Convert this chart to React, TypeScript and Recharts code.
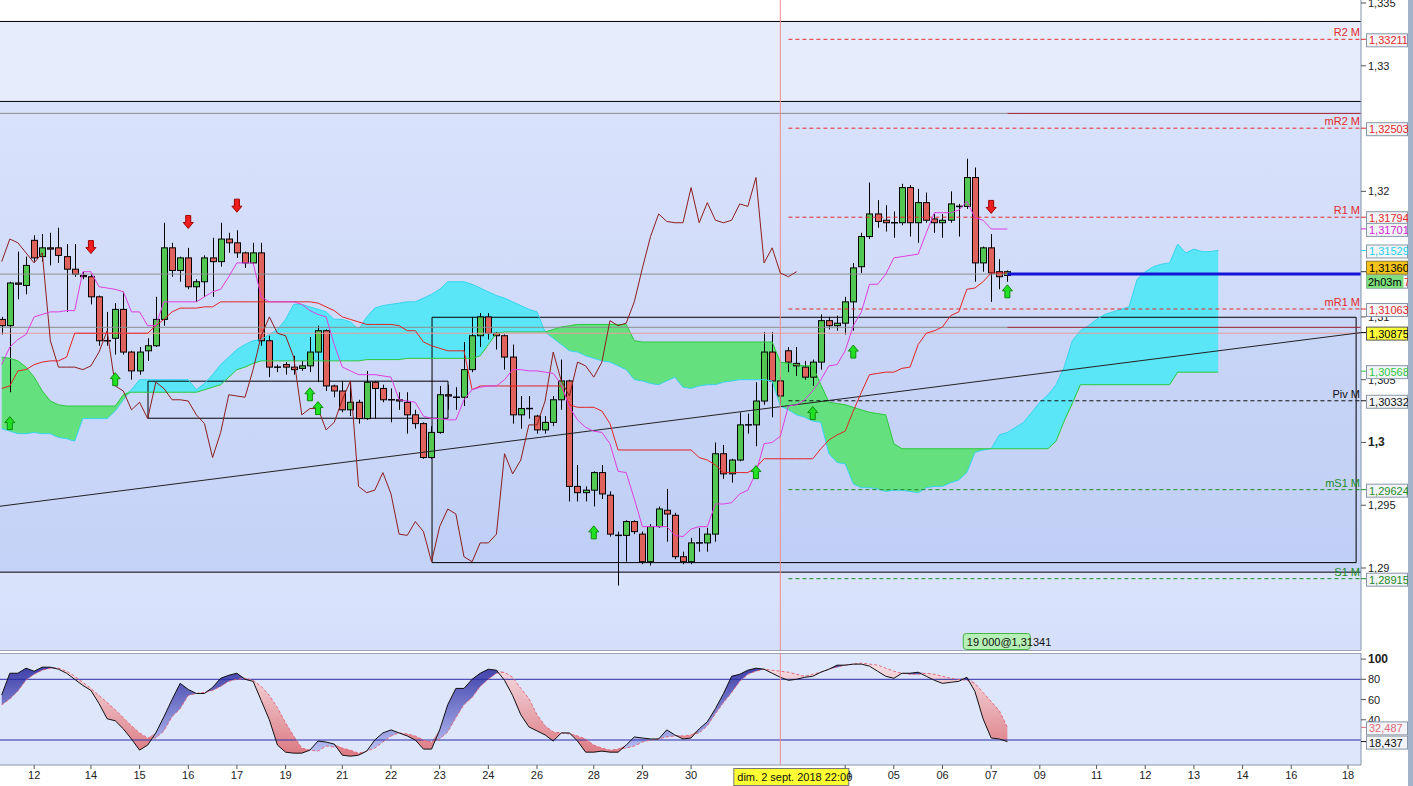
import React from "react";
import {
  Area,
  Bar,
  ComposedChart,
  Line,
  ReferenceArea,
  ReferenceLine,
  Scatter,
  XAxis,
  YAxis,
} from "recharts";

// GBP/USD-like H4 candles, oldest first
const opens = [
  1.3098, 1.3093, 1.3127, 1.3125, 1.3161, 1.3148, 1.3155, 1.3155, 1.3148, 1.3138,
  1.3133, 1.3132, 1.3116, 1.3081, 1.3083, 1.3106, 1.3072, 1.3057, 1.3073, 1.3077,
  1.3098, 1.3155, 1.3137, 1.3147, 1.3124, 1.3128, 1.3147, 1.3144, 1.3162, 1.3159,
  1.3151, 1.3143, 1.3151, 1.3081, 1.306, 1.3062, 1.306, 1.3059, 1.3061, 1.3072,
  1.3089, 1.3045, 1.3041, 1.3026, 1.3032, 1.3019, 1.3048, 1.3043, 1.3034, 1.3034,
  1.3032, 1.3022, 1.3015, 1.2988, 1.3008, 1.3038, 1.3036, 1.3036, 1.3058, 1.3085,
  1.31, 1.3087, 1.3085, 1.3068, 1.3022, 1.3027, 1.3021, 1.301, 1.3016, 1.3034,
  1.3049, 1.2965, 1.296, 1.2962, 1.2976, 1.2958, 1.2926, 1.2926, 1.2937, 1.2927,
  1.2905, 1.2933, 1.2946, 1.2942, 1.2909, 1.2905, 1.292, 1.292, 1.2927, 1.2991,
  1.2975, 1.2986, 1.3014, 1.3014, 1.3033, 1.3072, 1.3049, 1.3073, 1.3063, 1.306,
  1.3052, 1.3064, 1.3097, 1.3093, 1.3095, 1.3112, 1.314, 1.3164, 1.3182, 1.3177,
  1.3175, 1.3175, 1.3203, 1.3175, 1.3191, 1.3178, 1.3175, 1.3177, 1.3188, 1.3188,
  1.3211, 1.3143, 1.3155, 1.3136, 1.3133,
];
const highs = [
  1.31, 1.3128, 1.3152, 1.3148, 1.3165, 1.3166, 1.3167, 1.3171, 1.3158, 1.3158,
  1.3136, 1.3134, 1.3117, 1.3104, 1.3111, 1.312, 1.3073, 1.3076, 1.3083, 1.3116,
  1.3175, 1.3159, 1.3148, 1.3155, 1.313, 1.3149, 1.3163, 1.3175, 1.3167, 1.3169,
  1.3152, 1.3159, 1.3159, 1.3085, 1.3062, 1.3064, 1.3069, 1.3065, 1.3084, 1.3093,
  1.309, 1.3046, 1.3049, 1.3049, 1.3034, 1.3057, 1.3049, 1.3046, 1.3043, 1.304,
  1.304, 1.3026, 1.3016, 1.3013, 1.3045, 1.3046, 1.3044, 1.308, 1.31, 1.3103,
  1.3103, 1.3088, 1.3086, 1.3078, 1.3037, 1.3037, 1.3022, 1.3021, 1.3037, 1.3066,
  1.305, 1.2982, 1.2965, 1.2977, 1.2982, 1.2961, 1.2929, 1.2938, 1.2938, 1.2929,
  1.2935, 1.2949, 1.2963, 1.2944, 1.2913, 1.2924, 1.2932, 1.2932, 1.3, 1.2998,
  1.2987, 1.3024, 1.3023, 1.3048, 1.3088, 1.3088, 1.3052, 1.3076, 1.3076, 1.3065,
  1.3066, 1.3102, 1.31, 1.3101, 1.3116, 1.3143, 1.3167, 1.3207, 1.3193, 1.3189,
  1.3184, 1.3206, 1.3205, 1.3202, 1.3199, 1.3182, 1.3182, 1.32, 1.319, 1.3226,
  1.3219, 1.3156, 1.3166, 1.3146, 1.3137,
];
const lows = [
  1.3086, 1.304, 1.3114, 1.3118, 1.3144, 1.3144, 1.3141, 1.3143, 1.3104, 1.3132,
  1.313, 1.311, 1.3077, 1.3077, 1.307, 1.307, 1.305, 1.3054, 1.3065, 1.3076,
  1.3093, 1.3132, 1.3128, 1.3122, 1.3112, 1.3116, 1.3116, 1.314, 1.3151, 1.3147,
  1.3139, 1.3142, 1.3077, 1.3052, 1.3056, 1.3054, 1.3054, 1.3057, 1.3056, 1.3048,
  1.3041, 1.3036, 1.3024, 1.3021, 1.3015, 1.3018, 1.3019, 1.3032, 1.3016, 1.3026,
  1.3007, 1.3011, 1.2987, 1.2987, 1.3007, 1.3026, 1.3026, 1.3029, 1.3056, 1.3076,
  1.3082, 1.3074, 1.3058, 1.3015, 1.3011, 1.3019, 1.3007, 1.3007, 1.3013, 1.3026,
  1.2953, 1.2953, 1.2953, 1.2949, 1.2955, 1.2925, 1.2886, 1.2905, 1.2927, 1.2903,
  1.2902, 1.2932, 1.2921, 1.2907, 1.2903, 1.2903, 1.2913, 1.2913, 1.2921, 1.2971,
  1.2968, 1.2985, 1.3007, 1.2997, 1.303, 1.302, 1.303, 1.3056, 1.3053, 1.305,
  1.3045, 1.3058, 1.309, 1.3089, 1.3086, 1.3089, 1.3135, 1.3162, 1.3171, 1.3168,
  1.3163, 1.3173, 1.3164, 1.3159, 1.3175, 1.3167, 1.3163, 1.3175, 1.3164, 1.3186,
  1.3128, 1.3136, 1.3112, 1.3122, 1.3128,
];
const closes = [
  1.3093, 1.3127, 1.3126, 1.3141, 1.3147, 1.3155, 1.3154, 1.3149, 1.3138, 1.3134,
  1.3132, 1.3116, 1.3081, 1.3081, 1.3106, 1.3072, 1.3057, 1.3072, 1.3077, 1.3098,
  1.3155, 1.3137, 1.3147, 1.3124, 1.3128, 1.3147, 1.3144, 1.3162, 1.3159, 1.3151,
  1.3143, 1.3151, 1.3081, 1.306, 1.306, 1.306, 1.3058, 1.3061, 1.3072, 1.3089,
  1.3045, 1.3041, 1.3026, 1.3032, 1.3019, 1.3048, 1.3043, 1.3034, 1.3034, 1.3033,
  1.3022, 1.3015, 1.2988, 1.3008, 1.3038, 1.3037, 1.3036, 1.3058, 1.3085, 1.31,
  1.3087, 1.3085, 1.3068, 1.3022, 1.3027, 1.3027, 1.301, 1.3016, 1.3034, 1.3049,
  1.2965, 1.296, 1.2962, 1.2976, 1.2959, 1.2927, 1.2926, 1.2937, 1.2929, 1.2905,
  1.2933, 1.2947, 1.2943, 1.2909, 1.2905, 1.292, 1.292, 1.2927, 1.2991, 1.2975,
  1.2986, 1.3014, 1.3014, 1.3033, 1.3072, 1.3049, 1.3037, 1.3064, 1.3061, 1.3052,
  1.3064, 1.3097, 1.3093, 1.3095, 1.3112, 1.3139, 1.3164, 1.3182, 1.3176, 1.3175,
  1.3175, 1.3203, 1.3175, 1.3191, 1.3177, 1.3175, 1.3177, 1.319, 1.3188, 1.3211,
  1.3143, 1.3155, 1.3135, 1.3132, 1.3136,
];

// Ichimoku lines
const tenkan = [
  1.3062, 1.3076, 1.3082, 1.3086, 1.31, 1.3102, 1.3104, 1.3104, 1.3105, 1.3105,
  1.3136, 1.3136, 1.3124, 1.3123, 1.3122, 1.312, 1.3104, 1.3104, 1.3093, 1.3093,
  1.3112, 1.3112, 1.3112, 1.3112, 1.3112, 1.3116, 1.312, 1.3122, 1.3132, 1.3143,
  1.3143, 1.3143, 1.3116, 1.3112, 1.3112, 1.3112, 1.3112, 1.311, 1.3105, 1.3102,
  1.31, 1.3078, 1.306, 1.3057, 1.3054, 1.3054, 1.3054, 1.3053, 1.3052, 1.3034,
  1.3033, 1.3032, 1.3021, 1.3019, 1.3019, 1.3018, 1.3018, 1.3034, 1.3042, 1.3044,
  1.3045, 1.3045, 1.305, 1.3058, 1.3058, 1.3057, 1.3057, 1.3056, 1.3055, 1.3046,
  1.3028, 1.3018, 1.3012, 1.3009, 1.3008, 1.2999, 1.2977, 1.2976, 1.2955, 1.2933,
  1.2933, 1.2933, 1.2933, 1.2926, 1.2925, 1.2931, 1.2933, 1.2933, 1.2951, 1.2951,
  1.2952, 1.2959, 1.2962, 1.2976, 1.2999, 1.3, 1.3005, 1.3029, 1.303, 1.3034,
  1.3041, 1.305, 1.3061, 1.3062, 1.3073, 1.3093, 1.3104, 1.3126, 1.3126, 1.3134,
  1.3147, 1.3148, 1.3149, 1.315, 1.3167, 1.3183, 1.3183, 1.3183, 1.3185, 1.3192,
  1.3179, 1.3177, 1.317, 1.317, 1.317,
];
const kijun = [
  1.3043, 1.3045, 1.3057, 1.3058, 1.3062, 1.3064, 1.3065, 1.3065, 1.3068, 1.3087,
  1.3087, 1.3087, 1.3087, 1.3087, 1.3087, 1.3087, 1.3087, 1.3087, 1.3087, 1.3093,
  1.3098, 1.3104, 1.3107, 1.3107, 1.3107, 1.3108, 1.3108, 1.3112, 1.3112, 1.3112,
  1.3112, 1.3112, 1.3112, 1.3112, 1.3112, 1.3112, 1.3112, 1.3112, 1.3112, 1.3111,
  1.3108, 1.3105, 1.31, 1.3098, 1.3096, 1.3094, 1.3094, 1.3094, 1.3094, 1.3093,
  1.3089, 1.3089, 1.308, 1.3077, 1.3075, 1.3073, 1.3073, 1.3073, 1.3042, 1.3045,
  1.3045, 1.3045, 1.3045, 1.3045, 1.3045, 1.3045, 1.3045, 1.3045, 1.3045, 1.3045,
  1.303, 1.3028, 1.3028, 1.3028, 1.3025, 1.3015, 1.2994, 1.2994, 1.2994, 1.2994,
  1.2994, 1.2994, 1.2994, 1.2994, 1.2994, 1.2994, 1.2988, 1.2986, 1.2982, 1.2976,
  1.2976, 1.2976, 1.2976, 1.298, 1.2987, 1.2987, 1.2987, 1.2987, 1.2987, 1.2987,
  1.2987, 1.2995, 1.3002, 1.3006, 1.3009, 1.3025, 1.304, 1.3054, 1.3055, 1.3056,
  1.3056, 1.3059, 1.306, 1.3078, 1.3087, 1.3089, 1.3092, 1.3101, 1.3104, 1.3122,
  1.3123, 1.3128, 1.3135, 1.3135, 1.3135,
];
const senkouA = [
  1.3011, 1.3009, 1.3007, 1.3007, 1.3008, 1.3007, 1.3007, 1.3004, 1.3003, 1.3001,
  1.3019, 1.3019, 1.3019, 1.3019, 1.3025, 1.3034, 1.3042, 1.305, 1.305, 1.305,
  1.305, 1.305, 1.305, 1.305, 1.3042, 1.3047, 1.3054, 1.3062, 1.3068, 1.3074,
  1.3078, 1.3081, 1.3082, 1.3086, 1.309, 1.3098, 1.311, 1.311, 1.3108, 1.3106,
  1.3104, 1.3098, 1.3098, 1.3096, 1.309, 1.31, 1.3107, 1.3109, 1.311, 1.3111,
  1.3112, 1.3112, 1.3115, 1.3118, 1.3122, 1.3128, 1.3128, 1.3128, 1.3126, 1.3123,
  1.312, 1.3117, 1.3115, 1.3112, 1.3109, 1.3106, 1.3104, 1.3088, 1.3083, 1.3078,
  1.3073, 1.3072, 1.3069, 1.3067, 1.3065, 1.3064, 1.3061, 1.3058, 1.305, 1.3049,
  1.3047, 1.3046, 1.3049, 1.3052, 1.3044, 1.3043, 1.3045, 1.3046, 1.3046, 1.3048,
  1.3049, 1.305, 1.305, 1.305, 1.305, 1.3049, 1.3029, 1.3026, 1.3022, 1.302,
  1.3017, 1.3016, 1.2991, 1.2984, 1.2983, 1.2967, 1.2964, 1.2964, 1.2963, 1.2961,
  1.2962, 1.2962, 1.2961, 1.296, 1.2964, 1.2965, 1.2965, 1.2968, 1.297, 1.2976,
  1.2992, 1.2994, 1.2995, 1.3006, 1.3008, 1.3012, 1.3016, 1.3024, 1.3032, 1.3038,
  1.3046, 1.306, 1.3081, 1.3089, 1.3093, 1.3098, 1.3102, 1.3104, 1.3106, 1.3108,
  1.313, 1.3136, 1.314, 1.3142, 1.3143, 1.3158, 1.3151, 1.3154, 1.3152, 1.3152,
  1.3153,
];
const senkouB = [
  1.3068, 1.3067, 1.3065, 1.306, 1.3052, 1.3041, 1.3033, 1.303, 1.3029, 1.3029,
  1.3029, 1.3029, 1.3029, 1.3029, 1.3029, 1.3038, 1.304, 1.304, 1.304, 1.304,
  1.304, 1.304, 1.304, 1.304, 1.304, 1.3042, 1.3044, 1.3046, 1.3052, 1.3058,
  1.306, 1.3063, 1.3065, 1.3065, 1.3065, 1.3065, 1.3065, 1.3065, 1.3065, 1.3065,
  1.3065, 1.3065, 1.3065, 1.3065, 1.3065, 1.3066, 1.3066, 1.3066, 1.3066, 1.3066,
  1.3067, 1.3067, 1.3067, 1.3067, 1.3067, 1.3067, 1.3067, 1.3067, 1.3067, 1.3069,
  1.3078, 1.3087, 1.3088, 1.3088, 1.3088, 1.3088, 1.3088, 1.3088, 1.309, 1.3092,
  1.3093, 1.3094, 1.3094, 1.3094, 1.3094, 1.3094, 1.3094, 1.3094, 1.3081, 1.308,
  1.308, 1.308, 1.308, 1.308, 1.308, 1.308, 1.308, 1.308, 1.308, 1.308,
  1.308, 1.308, 1.308, 1.308, 1.308, 1.308, 1.3064, 1.3063, 1.3062, 1.3061,
  1.3061, 1.3046, 1.3032, 1.3031, 1.303, 1.3028, 1.3026, 1.3024, 1.3023, 1.3022,
  1.2999, 1.2995, 1.2995, 1.2995, 1.2995, 1.2995, 1.2995, 1.2995, 1.2995, 1.2995,
  1.2995, 1.2995, 1.2995, 1.2995, 1.2995, 1.2995, 1.2995, 1.2995, 1.2995, 1.2995,
  1.3001, 1.3017, 1.3031, 1.3046, 1.3046, 1.3046, 1.3046, 1.3046, 1.3046, 1.3046,
  1.3046, 1.3046, 1.3046, 1.3046, 1.3046, 1.3056, 1.3056, 1.3056, 1.3056, 1.3056,
  1.3056,
];

// stochastic %K (solid) and %D (dashed)
const stochK = [
  64.5, 86, 86, 91, 88, 92, 92, 90, 86, 80, 74, 69, 56, 41, 39, 31, 21, 10, 15, 27,
  43, 60, 76, 70, 66, 66, 72, 81, 84, 86, 80, 78, 59, 40, 15, 8, 7, 7, 10, 19,
  18, 16, 5, 4, 5, 9, 20, 27, 30, 27, 24, 20, 11, 11, 30, 55, 71, 71, 80, 86,
  90, 89, 79, 64, 45, 33, 29, 25, 19, 27, 27, 19, 8, 8, 9, 8, 8, 15, 23, 22,
  21, 21, 30, 25, 21, 22, 31, 38, 51, 66, 83, 85, 89, 91, 90, 86, 82, 79, 80, 82,
  83, 87, 90, 94, 94, 95, 95, 93, 88, 83, 81, 86, 86, 87, 83, 79, 76, 77, 78, 82,
  68, 41, 22, 21, 18.437,
];
const stochD = [
  54.7, 60.5, 68.5, 79.3, 85, 89, 91, 91, 88, 83, 77, 71, 64, 57, 50, 42, 34, 27, 22, 22,
  29, 43, 51, 64, 66, 67, 69, 73, 78, 80, 81, 79, 73, 64, 52, 37, 24, 12, 10, 9,
  14, 13, 12, 10, 7, 9, 12, 18, 24, 27, 26, 24, 20, 18, 21, 28, 42, 55, 62, 73,
  80, 86, 87, 82, 71, 61, 45, 34, 28, 27, 26, 24, 21, 15, 12, 10, 11, 12, 14, 18,
  20, 21, 23, 24, 24, 25, 27, 34, 46, 57, 67, 78, 85, 88, 90, 89, 88, 87, 85, 83,
  85, 87, 90, 92, 94, 95, 96, 95, 94, 91, 88, 86, 85, 85, 86, 85, 83, 81, 80, 79,
  76, 67, 58, 49, 32.487,
];

// date axis: candle index of each day label
const dayTicks = [4, 11, 17, 23, 29, 35, 42, 48, 54, 60, 66, 73, 79, 85, 104, 110, 116, 122, 128, 135, 141, 147, 153, 159, 166];
const dayLabels = ["12", "14", "15", "16", "17", "19", "21", "22", "23", "24", "26", "28", "29", "30", "04", "05", "06", "07", "09", "11", "12", "13", "14", "16", "18"];

// signal arrows
const upArrowIdx = [1, 14, 38, 39, 73, 93, 100, 105, 124];
const upArrowPrice = [1.3015, 1.305, 1.3038, 1.3027, 1.2928, 1.2976, 1.3023, 1.3072, 1.312];
const downArrowIdx = [11, 23, 29, 122];
const downArrowPrice = [1.3156, 1.3176, 1.3189, 1.3188];

// monthly pivots
const pivotNames = ["R2 M", "mR2 M", "R1 M", "mR1 M", "Piv M", "mS1 M", "S1 M"];
const pivotValues = [1.33211, 1.32503, 1.31794, 1.31063, 1.30332, 1.29624, 1.28915];

const priceTicks = [1.29, 1.295, 1.3, 1.305, 1.31, 1.32, 1.33, 1.335];
const stochTicks = [40, 60, 80, 100];

const FONT = "'Liberation Sans', Arial, sans-serif";
const RED = "#e42a2a";
const GREEN = "#1c8c26";
const W = 1413;
const MAIN_H = 650;
const X_MIN = -0.21;
const X_MAX = 167.6;
const Y_MIN = 1.28347;
const Y_MAX = 1.33524;
const S_MIN = -4.7;
const S_MAX = 106;
const LAST = 124;
const CROSS = 96;
const PIVOT_START = 97;
const ORDER_AT = 118.5;
const CHIKOU_SHIFT = 26;

const rows = senkouA.map((a, i) => {
  const b = senkouB[i];
  const has = i < opens.length;
  return {
    i,
    candle: has ? [lows[i], highs[i]] : null,
    open: has ? opens[i] : null,
    high: has ? highs[i] : null,
    low: has ? lows[i] : null,
    close: has ? closes[i] : null,
    tenkan: i < tenkan.length ? tenkan[i] : null,
    kijun: i < kijun.length ? kijun[i] : null,
    chikou: i + CHIKOU_SHIFT < closes.length ? closes[i + CHIKOU_SHIFT] : null,
    spanA: a,
    spanB: b,
    cloudUp: [b, Math.max(a, b)],
    cloudDown: [a, Math.max(a, b)],
  };
});

const stochRows = stochK.map((k, i) => {
  const d = stochD[i];
  return { i, k, d, up: [d, Math.max(k, d)], down: [k, Math.max(k, d)] };
});

const ups = upArrowIdx.map((i, n) => ({ i, price: upArrowPrice[n] }));
const downs = downArrowIdx.map((i, n) => ({ i, price: downArrowPrice[n] }));

const fmtPrice = (v: number) =>
  v.toFixed(3).replace(/0+$/, "").replace(/\.$/, "").replace(".", ",");

function Candle(props: any) {
  const { x, y, width, height, payload } = props;
  if (!payload || payload.open == null) return null;
  const { open, high, low, close } = payload;
  const top = Math.min(y, y + height);
  const h = Math.abs(height);
  const py = (p: number) => top + ((high - p) / (high - low)) * h;
  const cx = Math.round(x + width / 2) + 0.5;
  const yo = py(open);
  const yc = py(close);
  const flat = Math.abs(close - open) < 0.00002;
  return (
    <g>
      <line x1={cx} x2={cx} y1={top} y2={top + h} stroke="#000" />
      {flat ? (
        <line x1={cx - 3.5} x2={cx + 3.5} y1={yo} y2={yo} stroke="#000" strokeWidth={1.5} />
      ) : (
        <rect
          x={cx - 3}
          y={Math.min(yo, yc)}
          width={6}
          height={Math.max(1, Math.abs(yc - yo))}
          fill={close > open ? "#52c852" : "#e0625c"}
          stroke="#000"
        />
      )}
    </g>
  );
}

function UpArrow({ cx, cy }: any) {
  if (cx == null) return null;
  const pts = [
    [cx, cy - 7], [cx + 5, cy - 1], [cx + 2.5, cy - 1], [cx + 2.5, cy + 6],
    [cx - 2.5, cy + 6], [cx - 2.5, cy - 1], [cx - 5, cy - 1],
  ].map((p) => p.join(",")).join(" ");
  return <polygon points={pts} fill="#22e022" stroke="#0d8a0d" />;
}

function DownArrow({ cx, cy }: any) {
  if (cx == null) return null;
  const pts = [
    [cx, cy + 7], [cx + 5, cy + 1], [cx + 2.5, cy + 1], [cx + 2.5, cy - 6],
    [cx - 2.5, cy - 6], [cx - 2.5, cy + 1], [cx - 5, cy + 1],
  ].map((p) => p.join(",")).join(" ");
  return <polygon points={pts} fill="#f01e1e" stroke="#a00000" />;
}

function Tag({ viewBox, text, color = "#000", bg = "#f2f4f8", border = "#8a97a8" }: any) {
  if (!viewBox) return null;
  const x = viewBox.x + viewBox.width;
  const y = viewBox.y;
  return (
    <g fontFamily={FONT}>
      <line x1={x} x2={x + 5} y1={y} y2={y} stroke={color} />
      <rect x={x + 5.5} y={y - 5.5} width={41} height={13} fill={bg} stroke={border} />
      <text x={x + 8} y={y + 5} fontSize={11} fill={color}>{text}</text>
    </g>
  );
}

function CurrentTag({ viewBox }: any) {
  if (!viewBox) return null;
  const x = viewBox.x + viewBox.width;
  const y = viewBox.y;
  return (
    <g fontFamily={FONT} fontSize={11}>
      <line x1={x} x2={x + 5} y1={y} y2={y} stroke="#333" />
      <rect x={x + 5.5} y={y + 3.5} width={41} height={13} fill="#f2f4f8" stroke="#8a97a8" />
      <rect x={x + 5.5} y={y + 3.5} width={37} height={13} fill="#7fdf7f" />
      <text x={x + 7} y={y + 14} fill="#000">2h03m</text>
      <text x={x + 43} y={y + 14} fill={RED}>7</text>
      <rect x={x + 5.5} y={y - 10.5} width={41} height={13} fill="#f5c31c" stroke="#8b7b35" />
      <text x={x + 8} y={y} fill="#000">1,31360</text>
    </g>
  );
}

function PivotLabel({ viewBox, name, value, color }: any) {
  if (!viewBox) return null;
  const right = viewBox.x + viewBox.width;
  const y = viewBox.y;
  return (
    <g fontFamily={FONT}>
      <text x={right - 1} y={y - 3} fontSize={11} fill={color} textAnchor="end">{name}</text>
      <line x1={right} x2={right + 5} y1={y} y2={y} stroke={color} />
      <rect x={right + 5.5} y={y - 5.5} width={41} height={13} fill="#f2f4f8" stroke="#8a97a8" />
      <text x={right + 8} y={y + 5} fontSize={11} fill={color}>{value.toFixed(5).replace(".", ",")}</text>
    </g>
  );
}

function OrderLabel({ viewBox }: any) {
  if (!viewBox) return null;
  const x = viewBox.x;
  const bottom = viewBox.y + viewBox.height;
  return (
    <g fontFamily={FONT}>
      <rect x={x + 0.5} y={bottom - 16.5} width={67} height={16} rx={3} fill="#b6f0b6" stroke="#46b446" />
      <text x={x + 4} y={bottom - 4} fontSize={11} fill="#111">19 000@1,31341</text>
    </g>
  );
}

function DateLabel({ viewBox }: any) {
  if (!viewBox) return null;
  const x = viewBox.x;
  const bottom = viewBox.y + viewBox.height;
  return (
    <g fontFamily={FONT}>
      <rect x={x - 46.5} y={bottom + 3.5} width={115} height={17} fill="#ffff33" stroke="#777" />
      <text x={x - 43} y={bottom + 16} fontSize={11} fill="#111">dim. 2 sept. 2018 22:00</text>
    </g>
  );
}

function PriceTick({ x, y, payload }: any) {
  const bold = Math.abs(payload.value - 1.3) < 1e-9;
  return (
    <text x={x} y={y + 4} fontSize={bold ? 12 : 11} fontWeight={bold ? 700 : 400} fill="#222" fontFamily={FONT}>
      {fmtPrice(payload.value)}
    </text>
  );
}

function StochTick({ x, y, payload }: any) {
  const bold = payload.value === 100;
  return (
    <text x={x} y={y + 4} fontSize={bold ? 12 : 11} fontWeight={bold ? 700 : 400} fill="#222" fontFamily={FONT}>
      {payload.value}
    </text>
  );
}

const layer = { position: "absolute" as const, left: 0, top: 0 };

export default function App() {
  const xHidden = <XAxis type="number" dataKey="i" domain={[X_MIN, X_MAX]} allowDataOverflow hide />;
  const yHidden = <YAxis hide type="number" domain={[Y_MIN, Y_MAX]} allowDataOverflow />;
  const sHidden = <YAxis hide type="number" domain={[S_MIN, S_MAX]} allowDataOverflow />;
  return (
    <div
      style={{
        position: "absolute",
        left: 0,
        top: 0,
        width: W,
        height: 786,
        background: "#fff",
        overflow: "hidden",
        fontFamily: FONT,
      }}
    >
      {/* main panel backdrop */}
      <div style={layer}>
        <ComposedChart width={W} height={MAIN_H} data={rows} margin={{ top: 0, right: 52, bottom: 0, left: 0 }}>
          <defs>
            <linearGradient id="bgBase" x1="0" y1="0" x2="0" y2="1">
              <stop offset="0" stopColor="#ffffff" />
              <stop offset="1" stopColor="#d5dffb" />
            </linearGradient>
            <linearGradient id="bgBand" x1="0" y1="0" x2="0" y2="1">
              <stop offset="0" stopColor="#d9e2fb" />
              <stop offset="1" stopColor="#c4d2f7" />
            </linearGradient>
          </defs>
          {xHidden}
          {yHidden}
          <ReferenceArea x1={X_MIN} x2={X_MAX} y1={Y_MIN} y2={Y_MAX} fill="url(#bgBase)" fillOpacity={1} />
          <ReferenceArea x1={X_MIN} x2={X_MAX} y1={1.32716} y2={1.33353} fill="#e6ecfc" fillOpacity={1} />
          <ReferenceArea x1={X_MIN} x2={X_MAX} y1={1.28967} y2={1.32716} fill="url(#bgBand)" fillOpacity={1} />
          <ReferenceArea x1={53.06} x2={167} y1={1.29043} y2={1.30997} fill="#b3c4f0" fillOpacity={0.22} />
        </ComposedChart>
      </div>

      {/* main panel */}
      <div style={layer}>
        <ComposedChart width={W} height={MAIN_H} data={rows} margin={{ top: 0, right: 0, bottom: 0, left: 0 }}>
          {xHidden}
          <YAxis
            orientation="right"
            width={52}
            type="number"
            domain={[Y_MIN, Y_MAX]}
            allowDataOverflow
            ticks={priceTicks}
            interval={0}
            tick={<PriceTick />}
            tickSize={5}
            tickLine={{ stroke: "#555" }}
            axisLine={{ stroke: "#8394aa" }}
          />

          <Area type="linear" dataKey="cloudUp" fill="#5ae6f7" fillOpacity={1} stroke="none" isAnimationActive={false} activeDot={false} />
          <Area type="linear" dataKey="cloudDown" fill="#64e07e" fillOpacity={1} stroke="none" isAnimationActive={false} activeDot={false} />
          <Line type="linear" dataKey="spanA" stroke="#38d4ee" strokeWidth={1} dot={false} activeDot={false} isAnimationActive={false} />
          <Line type="linear" dataKey="spanB" stroke="#2cc83c" strokeWidth={1} dot={false} activeDot={false} isAnimationActive={false} />

          <ReferenceLine y={1.33353} stroke="#000" />
          <ReferenceLine y={1.32716} stroke="#000" />
          <ReferenceLine y={1.28967} stroke="#000" />
          <ReferenceLine segment={[{ x: X_MIN, y: 1.32621 }, { x: LAST, y: 1.32621 }]} stroke="#8e8e8e" />
          <ReferenceLine segment={[{ x: LAST, y: 1.32621 }, { x: X_MAX, y: 1.32621 }]} stroke="#9a1c2c" />
          <ReferenceLine segment={[{ x: X_MIN, y: 1.31341 }, { x: LAST, y: 1.31341 }]} stroke="#8e8e8e" />
          <ReferenceLine segment={[{ x: X_MIN, y: 1.30917 }, { x: LAST, y: 1.30917 }]} stroke="#8e8e8e" />
          <ReferenceLine segment={[{ x: LAST, y: 1.30917 }, { x: X_MAX, y: 1.30917 }]} stroke="#9a1c2c" />
          <ReferenceLine y={1.3087} stroke="#ec9a9a" />
          <ReferenceArea x1={18.04} x2={55.03} y1={1.30193} y2={1.30488} fill="none" fillOpacity={0} stroke="#000" />
          <ReferenceArea x1={53.06} x2={167} y1={1.29043} y2={1.30997} fill="none" fillOpacity={0} stroke="#000" />
          <ReferenceLine segment={[{ x: X_MIN, y: 1.29492 }, { x: X_MAX, y: 1.30875 }]} stroke="#222" />
          <ReferenceLine x={CROSS} stroke="#f08c8c" />

          {pivotValues.map((v, n) => (
            <ReferenceLine
              key={pivotNames[n]}
              segment={[{ x: PIVOT_START, y: v }, { x: X_MAX, y: v }]}
              stroke={n < 4 ? RED : n === 4 ? "#111" : GREEN}
              strokeDasharray="4 3"
            />
          ))}

          <Line type="linear" dataKey="chikou" stroke="#8e1d1d" strokeWidth={1} dot={false} activeDot={false} isAnimationActive={false} />
          <Line type="linear" dataKey="kijun" stroke="#e22424" strokeWidth={1} dot={false} activeDot={false} isAnimationActive={false} />
          <Line type="linear" dataKey="tenkan" stroke="#e03ee0" strokeWidth={1} dot={false} activeDot={false} isAnimationActive={false} />

          <Bar dataKey="candle" barSize={6} shape={<Candle />} isAnimationActive={false} />

          <ReferenceLine segment={[{ x: LAST, y: 1.31341 }, { x: X_MAX, y: 1.31341 }]} stroke="#1414d8" strokeWidth={3} />

          <Scatter data={ups} dataKey="price" shape={<UpArrow />} isAnimationActive={false} />
          <Scatter data={downs} dataKey="price" shape={<DownArrow />} isAnimationActive={false} />
        </ComposedChart>
      </div>

      {/* main panel labels, drawn over the price axis */}
      <div style={layer}>
        <ComposedChart width={W} height={MAIN_H} data={rows} margin={{ top: 0, right: 52, bottom: 0, left: 0 }}>
          {xHidden}
          {yHidden}
          {pivotValues.map((v, n) => {
            const color = n < 4 ? RED : n === 4 ? "#111" : GREEN;
            return (
              <ReferenceLine
                key={pivotNames[n]}
                segment={[{ x: PIVOT_START, y: v }, { x: X_MAX, y: v }]}
                stroke="none"
                label={<PivotLabel name={pivotNames[n]} value={v} color={color} />}
              />
            );
          })}
          <ReferenceLine y={1.31701} stroke="none" label={<Tag text="1,31701" color="#d228d2" />} />
          <ReferenceLine y={1.31529} stroke="none" label={<Tag text="1,31529" color="#22d2f0" />} />
          <ReferenceLine y={1.3136} stroke="none" label={<CurrentTag />} />
          <ReferenceLine y={1.30875} stroke="none" label={<Tag text="1,30875" color="#000" bg="#ffff3c" border="#555" />} />
          <ReferenceLine y={1.30568} stroke="none" label={<Tag text="1,30568" color="#2cc83c" />} />
          <ReferenceLine x={ORDER_AT} stroke="none" label={<OrderLabel />} />
        </ComposedChart>
      </div>

      <div style={{ position: "absolute", left: 0, top: 650, width: 1361, height: 1, background: "#9aa4b4" }} />
      <div
        style={{
          position: "absolute",
          left: 0,
          top: 653,
          width: 1361,
          height: 112,
          background: "#dee6fc",
          borderTop: "1px solid #9aa4b4",
          boxSizing: "border-box",
        }}
      />

      {/* stochastic panel */}
      <div style={{ ...layer, top: 650 }}>
        <ComposedChart width={W} height={136} data={stochRows} margin={{ top: 3, right: 0, bottom: 0, left: 0 }}>
          <defs>
            <linearGradient id="stUp" x1="0" y1="0" x2="0" y2="1">
              <stop offset="0" stopColor="#3a3aa6" />
              <stop offset="1" stopColor="#bac2f4" />
            </linearGradient>
            <linearGradient id="stDown" x1="0" y1="0" x2="0" y2="1">
              <stop offset="0" stopColor="#f6e0e6" />
              <stop offset="1" stopColor="#dc7880" />
            </linearGradient>
          </defs>
          <XAxis
            type="number"
            dataKey="i"
            domain={[X_MIN, X_MAX]}
            allowDataOverflow
            ticks={dayTicks}
            interval={0}
            height={21}
            tickSize={4}
            tickFormatter={(v: number) => dayLabels[dayTicks.indexOf(v)] ?? ""}
            tick={{ fontSize: 11, fill: "#222", fontFamily: FONT }}
            tickLine={{ stroke: "#555" }}
            axisLine={{ stroke: "#8f9aa8" }}
          />
          <YAxis
            orientation="right"
            width={52}
            type="number"
            domain={[S_MIN, S_MAX]}
            allowDataOverflow
            ticks={stochTicks}
            interval={0}
            tick={<StochTick />}
            tickSize={5}
            tickLine={{ stroke: "#555" }}
            axisLine={{ stroke: "#8394aa" }}
          />
          <Area type="linear" dataKey="up" fill="url(#stUp)" fillOpacity={1} stroke="none" isAnimationActive={false} activeDot={false} />
          <Area type="linear" dataKey="down" fill="url(#stDown)" fillOpacity={1} stroke="none" isAnimationActive={false} activeDot={false} />
          <ReferenceLine y={80} stroke="#2c2ca6" />
          <ReferenceLine y={20} stroke="#2c2ca6" />
          <Line type="linear" dataKey="d" stroke="#e46a7a" strokeDasharray="3 2" dot={false} activeDot={false} isAnimationActive={false} />
          <Line type="linear" dataKey="k" stroke="#111" dot={false} activeDot={false} isAnimationActive={false} />
          <ReferenceLine x={CROSS} stroke="#f08c8c" />
        </ComposedChart>
      </div>

      {/* stochastic labels, drawn over the axes */}
      <div style={{ ...layer, top: 650 }}>
        <ComposedChart width={W} height={136} data={stochRows} margin={{ top: 3, right: 52, bottom: 21, left: 0 }}>
          {xHidden}
          {sHidden}
          <ReferenceLine x={CROSS} stroke="none" label={<DateLabel />} />
          <ReferenceLine y={32.487} stroke="none" label={<Tag text="32,487" color="#e06a78" />} />
          <ReferenceLine y={18.437} stroke="none" label={<Tag text="18,437" color="#111" />} />
        </ComposedChart>
      </div>

      <div style={{ position: "absolute", left: 1408, top: 0, width: 5, height: 786, background: "#a3b3c8" }} />
    </div>
  );
}
